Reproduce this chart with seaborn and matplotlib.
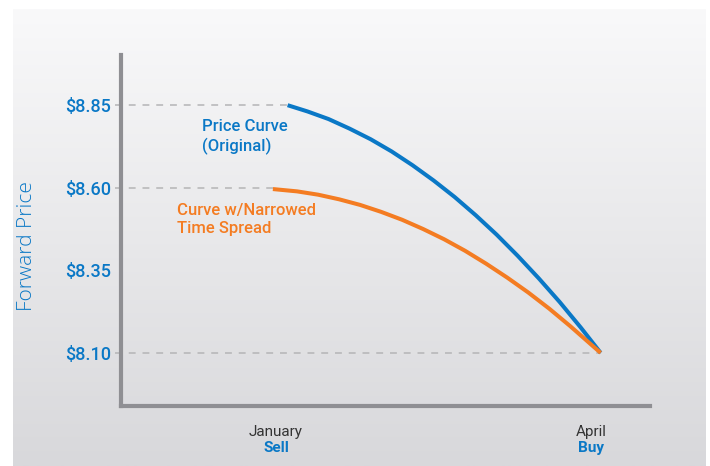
import numpy as np
import pandas as pd
import matplotlib
matplotlib.use("Agg")
import matplotlib.pyplot as plt
import seaborn as sns
from matplotlib.colors import LinearSegmentedColormap
import matplotlib.transforms as mtransforms

# ---- data ----
months = ["January", "April"]
actions = ["Sell", "Buy"]
month_pos = [0, 3]
price_ticks = [8.10, 8.35, 8.60, 8.85]

orig_x = [0.11, 0.30, 0.50, 0.70, 0.90, 1.10, 1.30, 1.50, 1.70, 1.90, 2.10, 2.30, 2.50, 2.70, 2.90, 3.09]
orig_y = [8.850, 8.831, 8.808, 8.779, 8.747, 8.710, 8.668, 8.622, 8.572, 8.517, 8.458, 8.394, 8.326, 8.254, 8.177, 8.100]
narrow_x = [-0.03, 0.20, 0.40, 0.60, 0.80, 1.00, 1.20, 1.40, 1.60, 1.80, 2.00, 2.20, 2.40, 2.60, 2.80, 3.00, 3.09]
narrow_y = [8.596, 8.589, 8.579, 8.565, 8.548, 8.527, 8.503, 8.475, 8.444, 8.409, 8.370, 8.328, 8.283, 8.234, 8.181, 8.125, 8.100]
series_names = ["Price Curve\n(Original)", "Curve w/Narrowed\nTime Spread"]
y_label = "Forward Price"

BLUE = "#0a78c6"
ORANGE = "#f47c22"
AXIS = "#8f8f93"
DASH = "#b4b4b6"

sns.set_theme(style="white")
plt.rcParams["font.family"] = ["Roboto", "DejaVu Sans"]

W, H = 710, 466
fig = plt.figure(figsize=(W / 100, H / 100), dpi=100)
fig.patch.set_facecolor("white")

# background gradient panel
bg = fig.add_axes([13 / W, 0, 693 / W, 457 / H], zorder=0)
grad = np.linspace(0, 1, 256).reshape(-1, 1)
cmap = LinearSegmentedColormap.from_list("bg", ["#f9f9fa", "#d8d8db"])
bg.imshow(grad, aspect="auto", cmap=cmap, origin="upper")
bg.axis("off")

left_px, right_px, top_px, bot_px = 121, 650, 55, 406
ax = fig.add_axes([left_px / W, (H - bot_px) / H, (right_px - left_px) / W, (bot_px - top_px) / H], zorder=1)
ax.patch.set_alpha(0)

df = pd.DataFrame({
    "month": orig_x + narrow_x,
    "price": orig_y + narrow_y,
    "series": [series_names[0]] * len(orig_x) + [series_names[1]] * len(narrow_x),
})
sns.lineplot(data=df, x="month", y="price", hue="series", palette=[BLUE, ORANGE],
             sort=False, legend=False, linewidth=2.9, ax=ax, zorder=3,
             solid_capstyle="butt", solid_joinstyle="round")

ax.set_xlim(-1.476, 3.56)
ax.set_ylim(7.939, 9.002)

# dashed guide lines
x_start = -1.533
ends = {8.85: orig_x[0], 8.60: narrow_x[0], 8.10: orig_x[-1]}
for yv, xe in ends.items():
    ax.plot([x_start, xe], [yv, yv], color=DASH, lw=1.1, dashes=(4.5, 4.5),
            clip_on=False, zorder=1)

for s in ["top", "right"]:
    ax.spines[s].set_visible(False)
for s in ["left", "bottom"]:
    ax.spines[s].set_color(AXIS)
    ax.spines[s].set_linewidth(3.0)
    ax.spines[s].set_zorder(4)

ax.set_yticks(price_ticks)
ax.set_yticklabels([f"${v:.2f}" for v in price_ticks])
ax.tick_params(axis="y", length=0, pad=7, labelsize=13, labelcolor=BLUE)
for t in ax.get_yticklabels():
    t.set_fontweight("medium")

ax.set_xticks(month_pos)
ax.set_xticklabels(months)
ax.tick_params(axis="x", length=4, width=3.2, color=AXIS, direction="out",
               pad=10, labelsize=11, labelcolor="#333333")

trans = mtransforms.blended_transform_factory(ax.transData, ax.transAxes)
for xp, a in zip(month_pos, actions):
    ax.annotate(a, xy=(xp, 0), xycoords=trans, xytext=(0, -30), textcoords="offset points",
                ha="center", va="center", color=BLUE, fontsize=11, fontweight="bold")

ax.set_xlabel("")
ax.set_ylabel(y_label, color=BLUE, fontsize=15, fontweight="light",
              family=["Open Sans", "DejaVu Sans"])
ax.yaxis.set_label_coords(-0.159, 0.455)

# series annotations
ax.text((202 - 276) / 105, orig_y[0] - 0.043, series_names[0], color=BLUE,
        fontsize=12, fontweight="medium", ha="left", va="top", linespacing=1.25)
ax.text((177 - 276) / 105, narrow_y[0] - 0.043, series_names[1], color=ORANGE,
        fontsize=12, fontweight="medium", ha="left", va="top", linespacing=1.25)

fig.savefig("out.png", dpi=100)
